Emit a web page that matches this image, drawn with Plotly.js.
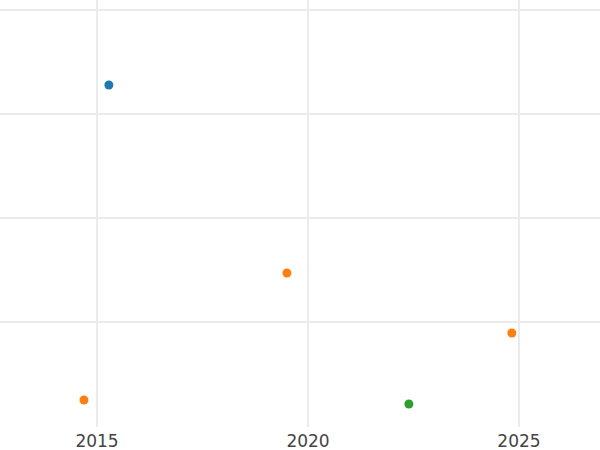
<!DOCTYPE html>
<html><head><meta charset="utf-8">
<script src="https://cdn.plot.ly/plotly-3.0.1.min.js"></script>
<style>html,body{margin:0;padding:0;background:#fff}</style>
</head><body><div id="chart" style="width:600px;height:450px"></div>
<script>
const blueX = [2015.28];
const blueY = [32.79];
const orangeX = [2014.69, 2019.50, 2024.83];
const orangeY = [2.50, 14.71, 8.94];
const greenX = [2022.39];
const greenY = [2.11];
const xTicks = [2015, 2020, 2025];
const yTicks = [10, 20, 30, 40];

const mk = (x, y, c) => ({x, y, type: 'scatter', mode: 'markers', marker: {color: c, size: 9}, hoverinfo: 'skip'});
const data = [mk(blueX, blueY, '#1f77b4'), mk(orangeX, orangeY, '#ff7f0e'), mk(greenX, greenY, '#2ca02c')];
const layout = {
  width: 600, height: 450,
  margin: {l: 0, r: 0, t: 0, b: 23, pad: 0},
  paper_bgcolor: '#fff', plot_bgcolor: '#fff',
  showlegend: false,
  font: {family: 'DejaVu Sans', size: 17, color: '#444'},
  xaxis: {range: [2012.70, 2026.92], tickvals: xTicks, ticktext: xTicks.map(String), ticklabelstandoff: 2, showgrid: true, gridcolor: '#ebebeb', gridwidth: 2, zeroline: false, showline: false, ticks: '', automargin: false},
  yaxis: {range: [-0.10, 40.96], tickvals: yTicks, showticklabels: false, showgrid: true, gridcolor: '#ebebeb', gridwidth: 2, zeroline: false, showline: false, ticks: '', automargin: false}
};
Plotly.newPlot('chart', data, layout, {displayModeBar: false, staticPlot: true});
</script></body></html>
